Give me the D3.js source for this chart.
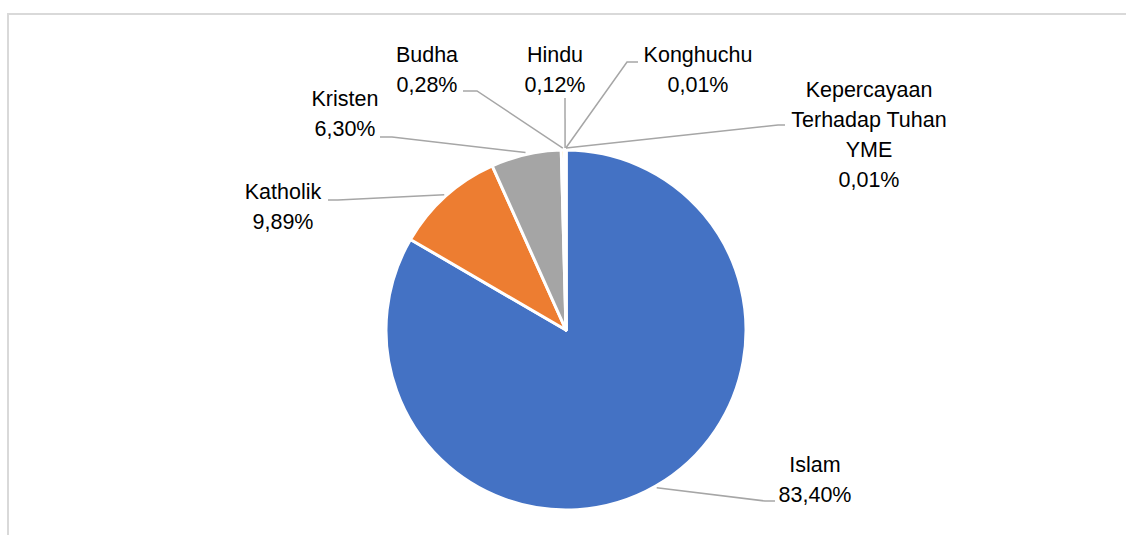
<!DOCTYPE html>
<html>
<head>
<meta charset="utf-8">
<script src="https://cdn.jsdelivr.net/npm/d3@7"></script>
<style>
  html, body { margin: 0; padding: 0; background: #fff; }
  svg { display: block; }
</style>
</head>
<body>
<div id="chart"></div>
<script>
// --- DATA ---
const religions = ["Islam", "Katholik", "Kristen", "Budha", "Hindu", "Konghuchu", "Kepercayaan Terhadap Tuhan YME"];
const shares = [83.40, 9.89, 6.30, 0.28, 0.12, 0.01, 0.01];
const shareLabels = ["83,40%", "9,89%", "6,30%", "0,28%", "0,12%", "0,01%", "0,01%"];
const labelLines = [
  ["Islam"],
  ["Katholik"],
  ["Kristen"],
  ["Budha"],
  ["Hindu"],
  ["Konghuchu"],
  ["Kepercayaan", "Terhadap Tuhan", "YME"]
];
const sliceColors = ["#4472C4", "#ED7D31", "#A5A5A5", "#FFC000", "#5B9BD5", "#70AD47", "#264478"];

// label layout: text centre x, first baseline y, leader end + elbow
const labelLayout = [
  { x: 815, y: 472, end: [775, 501], elbow: [765, 501] },
  { x: 283, y: 199, end: [328, 200], elbow: [338, 200] },
  { x: 345, y: 106, end: [380, 137], elbow: [392, 137] },
  { x: 427, y: 62,  end: [463, 91],  elbow: [477, 91] },
  { x: 555, y: 62,  end: [565, 98],  elbow: null },
  { x: 698, y: 62,  end: [638, 62],  elbow: [627, 62] },
  { x: 869, y: 97,  end: [785, 125], elbow: [778, 125] }
];

// --- SVG setup ---
const width = 1127, height = 535;
const cx = 566, cy = 330, radius = 180;
const lineH = 30;

const svg = d3.select("#chart")
  .append("svg")
  .attr("width", width)
  .attr("height", height);

// chart frame (only top and left edges are visible)
svg.append("path")
  .attr("d", `M8,${height} L8,14 L1126,14`)
  .attr("fill", "none")
  .attr("stroke", "#d9d9d9")
  .attr("stroke-width", 2);

const data = religions.map((r, i) => ({ name: r, value: shares[i], label: shareLabels[i], lines: labelLines[i], color: sliceColors[i], layout: labelLayout[i] }));

const pie = d3.pie()
  .value(d => d.value)
  .sort(null);

const arc = d3.arc()
  .innerRadius(0)
  .outerRadius(radius);

const arcs = pie(data);

const g = svg.append("g")
  .attr("transform", `translate(${cx},${cy})`);

// --- SLICES ---
g.selectAll("path.slice")
  .data(arcs)
  .enter()
  .append("path")
  .attr("class", "slice")
  .attr("d", arc)
  .attr("fill", d => d.data.color)
  .attr("stroke", "#fff")
  .attr("stroke-width", 3)
  .attr("stroke-linejoin", "round");

// --- LEADER LINES ---
const edgePoint = d => {
  const a = (d.startAngle + d.endAngle) / 2;
  return [cx + (radius + 2) * Math.sin(a), cy - (radius + 2) * Math.cos(a)];
};

svg.selectAll("path.leader")
  .data(arcs)
  .enter()
  .append("path")
  .attr("class", "leader")
  .attr("d", d => {
    const p = edgePoint(d);
    const L = d.data.layout;
    const pts = [p];
    if (L.elbow) pts.push(L.elbow);
    pts.push(L.end);
    return d3.line()(pts);
  })
  .attr("fill", "none")
  .attr("stroke", "#a6a6a6")
  .attr("stroke-width", 1.5);

// --- LABELS ---
const labels = svg.selectAll("text.lbl")
  .data(arcs)
  .enter()
  .append("text")
  .attr("class", "lbl")
  .attr("text-anchor", "middle")
  .style("font-family", "'Liberation Sans', Arial, sans-serif")
  .style("font-size", "21.5px")
  .style("fill", "#000");

labels.each(function(d) {
  const t = d3.select(this);
  const L = d.data.layout;
  const all = d.data.lines.concat([d.data.label]);
  all.forEach((s, i) => {
    t.append("tspan")
      .attr("x", L.x)
      .attr("y", L.y + i * lineH)
      .text(s);
  });
});
</script>
</body>
</html>
